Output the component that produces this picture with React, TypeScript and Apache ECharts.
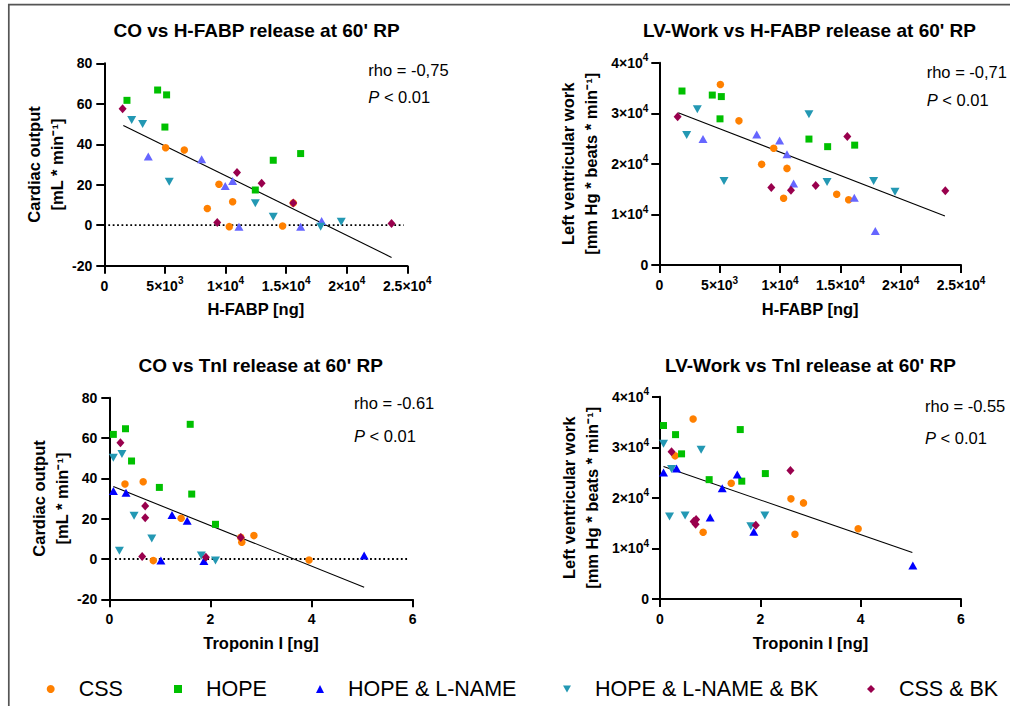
import React, { useEffect, useRef } from 'react';
import * as echarts from 'echarts';

const FONT = 'Liberation Sans, Arial, Helvetica, sans-serif';

// ---- groups / legend ----
const groupNames = ['CSS', 'HOPE', 'HOPE & L-NAME', 'HOPE & L-NAME & BK', 'CSS & BK'];
const groupColorsTop = ['#FF8000', '#00C000', '#6666FF', '#2398B3', '#99004D'];
const groupColorsBottom = ['#FF8000', '#00C000', '#0000FF', '#2398B3', '#99004D'];

// ---- tick labels ----
const hfabpTickLabels = ['0', '5×10{s|3}', '1×10{s|4}', '1.5×10{s|4}', '2×10{s|4}', '2.5×10{s|4}'];
const lvwTickLabels = ['0', '1×10{s|4}', '2×10{s|4}', '3×10{s|4}', '4×10{s|4}'];

// ---- titles & annotations ----
const panelTitles = [
  'CO vs H-FABP release at 60\' RP',
  'LV-Work vs H-FABP release at 60\' RP',
  'CO vs TnI release at 60\' RP',
  'LV-Work vs TnI release at 60\' RP',
];
const rhoTexts = ['rho = -0,75', 'rho = -0,71', 'rho = -0.61', 'rho = -0.55'];
const pTexts = ['{i|P} < 0.01', '{i|P} < 0.01', '{i|P} < 0.01', '{i|P} < 0.01'];

// ---- Panel 1: CO vs H-FABP ----
const coHfabpCSS = [[5060, 38.3], [6600, 37.2], [9460, 20.2], [10590, 11.6], [8500, 8.3], [10310, -0.7], [14710, -0.4], [15590, 11.0]];
const coHfabpHOPE = [[1870, 61.7], [4400, 66.8], [5140, 64.4], [5000, 48.5], [12460, 17.4], [13940, 32.1], [16200, 35.4]];
const coHfabpHLN = [[3630, 33.9], [8030, 32.6], [9980, 19.4], [10590, 21.8], [11110, -0.7], [16200, -0.7], [17930, 2.1]];
const coHfabpHLNBK = [[2260, 52.0], [3160, 50.0], [5360, 21.5], [12460, 10.8], [13940, 4.2], [17850, -0.7], [19550, 1.7]];
const coHfabpCSSBK = [[1510, 57.6], [9320, 1.4], [10950, 26.1], [12980, 20.7], [15590, 11.0], [23700, 0.9]];
const coHfabpFit = [[1570, 49.3], [23700, -15.9]];
const coHfabpZero = [[330, 0], [24700, 0]];

// ---- Panel 2: LV work vs H-FABP ----
const lvwHfabpCSS = [[5060, 35700], [6600, 28500], [9480, 23100], [8480, 19900], [10580, 19100], [10300, 13200], [14700, 14000], [15690, 12900]];
const lvwHfabpHOPE = [[1880, 34400], [4390, 33600], [5140, 33300], [5030, 28900], [12400, 24900], [13950, 23400], [16190, 23700]];
const lvwHfabpHLN = [[3620, 24900], [8070, 25800], [9970, 24600], [10580, 21900], [11130, 16100], [16160, 13300], [17900, 6700]];
const lvwHfabpHLNBK = [[3150, 30800], [2270, 25700], [5360, 16600], [12400, 29800], [13900, 16400], [17760, 16600], [19530, 14500]];
const lvwHfabpCSSBK = [[1520, 29300], [9280, 15300], [10910, 14800], [12960, 15700], [15580, 25400], [23700, 14700]];
const lvwHfabpFit = [[1570, 30100], [23670, 9700]];

// ---- Panel 3: CO vs TnI ----
const coTniCSS = [[0.31, 37.2], [0.67, 38.3], [1.42, 20.2], [2.62, 8.3], [2.86, 11.6], [0.87, -0.8], [3.95, -0.5], [2.6, 10.7]];
const coTniHOPE = [[0.08, 61.8], [0.32, 64.6], [0.44, 48.6], [0.99, 35.5], [1.63, 32.2], [1.6, 66.8], [2.1, 17.2]];
const coTniHLN = [[0.08, 33.7], [0.33, 32.9], [1.24, 21.8], [1.54, 19.0], [1.02, -0.8], [1.87, -1.0], [5.04, 1.7]];
const coTniHLNBK = [[0.08, 50.2], [0.25, 52.1], [0.49, 21.5], [0.84, 10.2], [0.2, 4.1], [1.82, 1.7], [2.1, -0.8]];
const coTniCSSBK = [[0.22, 57.7], [0.71, 26.3], [0.71, 20.5], [0.65, 1.2], [1.91, 0.8], [2.6, 10.7]];
const coTniFit = [[0.08, 35.9], [5.04, -14.0]];
const coTniZero = [[0.11, 0], [5.91, 0]];

// ---- Panel 4: LV work vs TnI ----
const lvwTniCSS = [[0.66, 35600], [0.3, 28300], [1.42, 22900], [2.61, 19800], [2.86, 19000], [0.86, 13200], [2.69, 12800], [3.95, 13900]];
const lvwTniHOPE = [[0.07, 34300], [0.31, 32500], [0.43, 28700], [0.98, 23600], [1.6, 33500], [1.63, 23300], [2.1, 24800]];
const lvwTniHLN = [[0.07, 25000], [0.33, 25800], [1.24, 21900], [1.54, 24600], [1.0, 16100], [1.87, 13300], [5.04, 6600]];
const lvwTniHLNBK = [[0.07, 30700], [0.23, 25700], [0.19, 16300], [0.5, 16500], [0.82, 29500], [1.81, 14400], [2.09, 16500]];
const lvwTniCSSBK = [[0.23, 29100], [0.67, 15300], [0.71, 14800], [0.72, 15700], [1.91, 14600], [2.6, 25400]];
const lvwTniFit = [[0.07, 26200], [5.03, 9200]];

const panelGroups = [
  [coHfabpCSS, coHfabpHOPE, coHfabpHLN, coHfabpHLNBK, coHfabpCSSBK],
  [lvwHfabpCSS, lvwHfabpHOPE, lvwHfabpHLN, lvwHfabpHLNBK, lvwHfabpCSSBK],
  [coTniCSS, coTniHOPE, coTniHLN, coTniHLNBK, coTniCSSBK],
  [lvwTniCSS, lvwTniHOPE, lvwTniHLN, lvwTniHLNBK, lvwTniCSSBK],
];
const panelFits = [coHfabpFit, lvwHfabpFit, coTniFit, lvwTniFit];
const panelZeros = [coHfabpZero, null, coTniZero, null];

const symbols = ['circle', 'rect', 'triangle', 'triangle', 'diamond'];
const symbolRotates = [0, 0, 0, 180, 0];
const symbolSizes: any[] = [7.5, 7, [9, 8], [9, 8], [8, 9]];

export default function App() {
  const ref = useRef<HTMLDivElement>(null);
  useEffect(() => {
    if (!ref.current) return;
    const chart = echarts.init(ref.current, null, { renderer: 'svg' });

    const grids = [
      { left: 104.3, top: 63.3, width: 303, height: 202.4 },
      { left: 659.3, top: 62.7, width: 301.7, height: 202.3 },
      { left: 109.3, top: 397.7, width: 303.4, height: 201.6 },
      { left: 660, top: 396.7, width: 301, height: 202.3 },
    ];
    const axisLine = { show: true, onZero: false, lineStyle: { color: '#000', width: 2 } };
    const axisTick = { show: true, length: 8, lineStyle: { color: '#000', width: 2 } };
    const supRich = {
      s: { fontSize: 10, fontWeight: 'bold', color: '#000', fontFamily: FONT, lineHeight: 10, verticalAlign: 'top' },
    };
    const labelBase = { color: '#000', fontWeight: 'bold', fontSize: 14, fontFamily: FONT, lineHeight: 20, rich: supRich };
    const nameBase = { color: '#000', fontWeight: 'bold', fontSize: 16.5, fontFamily: FONT };

    const xAxes = [0, 1, 2, 3].map((i) => {
      const isH = i < 2;
      return {
        gridIndex: i,
        type: 'value',
        min: 0,
        max: isH ? 25000 : 6,
        interval: isH ? 5000 : 2,
        axisLine,
        axisTick,
        splitLine: { show: false },
        axisLabel: {
          ...labelBase,
          margin: 10,
          formatter: (v: number) => (isH ? hfabpTickLabels[Math.round(v / 5000)] : String(v)),
        },
        name: isH ? 'H-FABP [ng]' : 'Troponin I [ng]',
        nameLocation: 'middle',
        nameGap: 35,
        nameTextStyle: nameBase,
      };
    });
    const yAxes = [0, 1, 2, 3].map((i) => {
      const isCO = i % 2 === 0;
      return {
        gridIndex: i,
        type: 'value',
        min: isCO ? -20 : 0,
        max: isCO ? 80 : 40000,
        interval: isCO ? 20 : 10000,
        axisLine,
        axisTick,
        splitLine: { show: false },
        axisLabel: {
          ...labelBase,
          margin: isCO ? 12 : 11,
          formatter: (v: number) => (isCO ? String(v) : lvwTickLabels[Math.round(v / 10000)]),
        },
        name: isCO ? 'Cardiac output\n[mL * min⁻¹]' : 'Left ventricular work\n[mm Hg * beats * min⁻¹]',
        nameLocation: 'middle',
        nameRotate: 90,
        nameGap: isCO ? 36 : 57,
        nameTextStyle: { ...nameBase, lineHeight: 23, align: 'center' },
      };
    });

    const series: any[] = [];
    for (let p = 0; p < 4; p++) {
      const zero = panelZeros[p];
      if (zero) {
        series.push({
          type: 'line', name: 'zero' + p, xAxisIndex: p, yAxisIndex: p, data: zero,
          symbol: 'none', silent: true, z: 1,
          lineStyle: { color: '#000', width: 1.8, type: [1.8, 2.6] },
        });
      }
      series.push({
        type: 'line', name: 'fit' + p, xAxisIndex: p, yAxisIndex: p, data: panelFits[p],
        symbol: 'none', silent: true, z: 1,
        lineStyle: { color: '#000', width: 1.1 },
      });
      const colors = p < 2 ? groupColorsTop : groupColorsBottom;
      panelGroups[p].forEach((data, g) => {
        series.push({
          type: 'scatter', name: groupNames[g], xAxisIndex: p, yAxisIndex: p, data,
          symbol: symbols[g], symbolRotate: symbolRotates[g], symbolSize: symbolSizes[g],
          itemStyle: { color: colors[g], opacity: 1 }, z: 3,
        });
      });
    }

    const legendX = [50.7, 178, 320, 567, 871];
    const legendIcons = ['circle', 'rect', 'triangle', 'path://M0,0L10,0L5,9Z', 'diamond'];
    const legends = groupNames.map((n, g) => ({
      data: [{ name: n, icon: legendIcons[g], itemStyle: { color: groupColorsBottom[g] } }],
      left: legendX[g] - 4,
      top: 678,
      padding: 0,
      itemWidth: 8,
      itemHeight: 8,
      itemGap: 0,
      selectedMode: false,
      textStyle: { color: '#000', fontSize: 21.5, fontFamily: FONT, padding: [0, 0, 0, 19] },
    }));

    const titleX = [256.5, 809.5, 260.7, 810.5];
    const titleY = [29.3, 29.3, 364.3, 364.3];
    const titles = panelTitles.map((t, i) => ({
      text: t,
      left: titleX[i],
      top: titleY[i] - 8,
      textAlign: 'center',
      padding: 0,
      textStyle: { color: '#000', fontWeight: 'bold', fontSize: 19, fontFamily: FONT },
    }));

    const annX = [368.3, 926.7, 354, 925];
    const rhoY = [70, 72.3, 403.3, 406];
    const pY = [97.3, 100, 435.7, 437.7];
    const graphics: any[] = [
      {
        type: 'polyline', silent: true,
        shape: { points: [[8.8, 706], [8.8, 4.7], [1010, 4.7]] },
        style: { stroke: '#555', lineWidth: 1.7, fill: null },
      },
    ];
    for (let i = 0; i < 4; i++) {
      graphics.push({
        type: 'text', x: annX[i], y: rhoY[i], silent: true,
        style: { text: rhoTexts[i], fill: '#000', font: `16.5px ${FONT}`, textAlign: 'left', textVerticalAlign: 'middle' },
      });
      graphics.push({
        type: 'text', x: annX[i], y: pY[i], silent: true,
        style: {
          text: pTexts[i], fill: '#000', font: `16.5px ${FONT}`, textAlign: 'left', textVerticalAlign: 'middle',
          rich: { i: { fontStyle: 'italic', fontSize: 16.5, fontFamily: FONT, fill: '#000' } },
        },
      });
    }

    chart.setOption({
      animation: false,
      backgroundColor: '#fff',
      textStyle: { fontFamily: FONT },
      title: titles,
      grid: grids,
      xAxis: xAxes,
      yAxis: yAxes,
      legend: legends,
      series,
      graphic: graphics,
    });
    return () => chart.dispose();
  }, []);

  return (
    <div
      ref={ref}
      style={{ position: 'fixed', left: 0, top: 0, width: 1010, height: 706, background: '#fff' }}
    />
  );
}
